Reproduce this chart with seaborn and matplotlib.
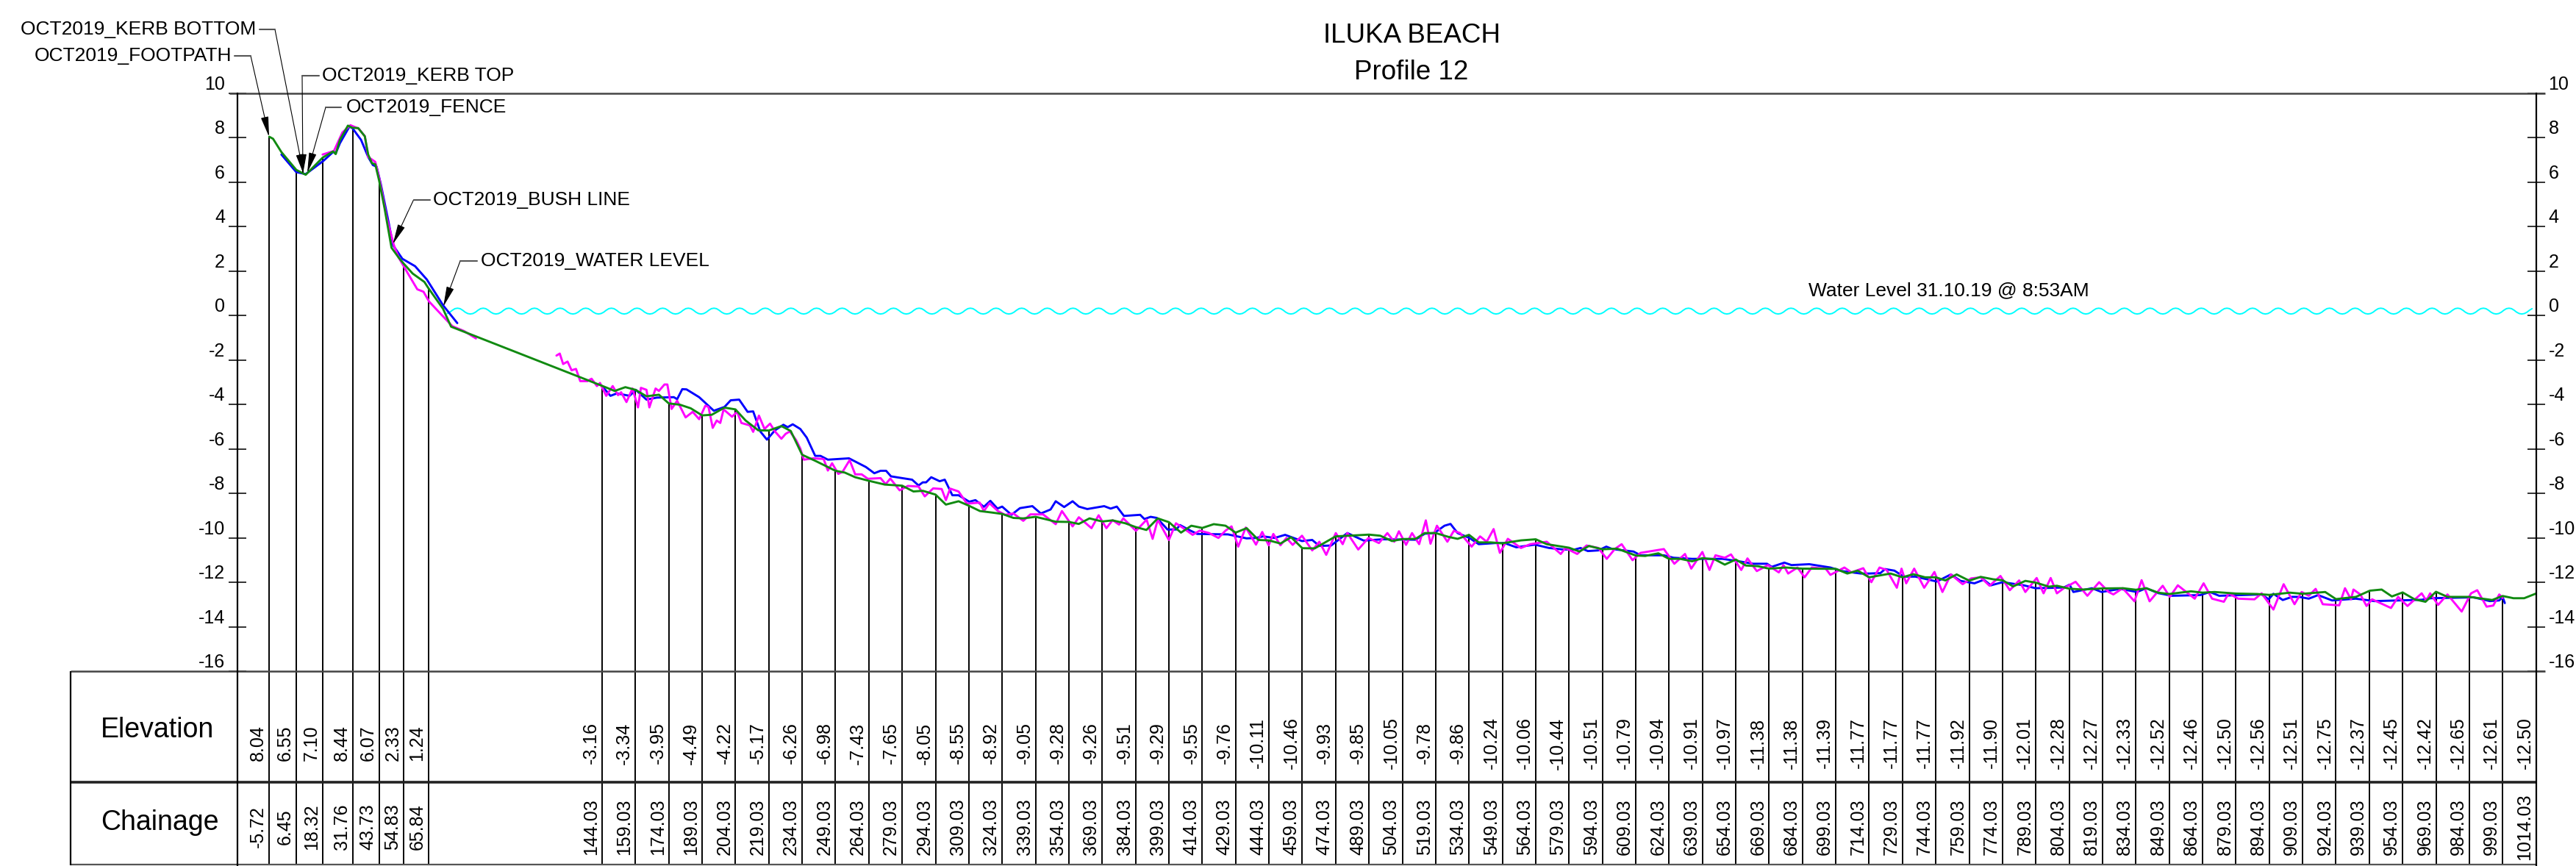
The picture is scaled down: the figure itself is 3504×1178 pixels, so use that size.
import numpy as np
import matplotlib
matplotlib.use("Agg")
import matplotlib.pyplot as plt
import seaborn as sns

# station values printed in the table under the profile
station_ch = [-5.72, 6.45, 18.32, 31.76, 43.73, 54.83, 65.84,
              144.03, 159.03, 174.03, 189.03, 204.03, 219.03, 234.03, 249.03, 264.03, 279.03, 294.03, 309.03,
              324.03, 339.03, 354.03, 369.03, 384.03, 399.03, 414.03, 429.03, 444.03, 459.03, 474.03, 489.03,
              504.03, 519.03, 534.03, 549.03, 564.03, 579.03, 594.03, 609.03, 624.03, 639.03, 654.03, 669.03,
              684.03, 699.03, 714.03, 729.03, 744.03, 759.03, 774.03, 789.03, 804.03, 819.03, 834.03, 849.03,
              864.03, 879.03, 894.03, 909.03, 924.03, 939.03, 954.03, 969.03, 984.03, 999.03, 1014.03]
station_el = [8.04, 6.55, 7.10, 8.44, 6.07, 2.33, 1.24,
              -3.16, -3.34, -3.95, -4.49, -4.22, -5.17, -6.26, -6.98, -7.43, -7.65, -8.05, -8.55,
              -8.92, -9.05, -9.28, -9.26, -9.51, -9.29, -9.55, -9.76, -10.11, -10.46, -9.93, -9.85,
              -10.05, -9.78, -9.86, -10.24, -10.06, -10.44, -10.51, -10.79, -10.94, -10.91, -10.97, -11.38,
              -11.38, -11.39, -11.77, -11.77, -11.77, -11.92, -11.90, -12.01, -12.28, -12.27, -12.33, -12.52,
              -12.46, -12.50, -12.56, -12.51, -12.75, -12.37, -12.45, -12.42, -12.65, -12.61, -12.50]
station_el_txt = [f"{v:.2f}" for v in station_el]
station_ch_txt = [f"{v:.2f}" for v in station_ch]

# green survey
green_ch = [-5.72, -4.0, -0.23, 6.45, 10.7, 18.32, 23.0, 24.2, 26.1, 29.7, 31.76, 34.3, 37.3, 38.8, 40.5, 42.0, 43.73,
            46.2, 49.3, 52.5, 54.83, 58.8, 64.1, 65.84, 72.5, 76.1, 144.03, 149.7, 154.5, 159.03, 164.0, 169.6, 174.03,
            179.1, 183.9, 189.03, 193.4, 199.1, 204.03, 208.6, 214.3, 219.03, 224.7, 228.9, 234.03, 239.9, 249.03,
            253.2, 257.9, 264.03, 271.2, 279.03, 284.1, 288.3, 294.03, 298.7, 304.4, 309.03, 314.0, 319.6, 324.03,
            329.1, 333.5, 339.03, 343.3, 348.1, 354.03, 358.5, 363.3, 369.03, 373.7, 379.4, 384.03, 388.9, 394.0,
            399.03, 404.46, 409.1, 414.03, 419.2, 424.5, 429.03, 434.0, 439.3, 444.03, 449.2, 454.0, 459.03, 464.6,
            474.03, 489.03, 494.1, 499.4, 504.03, 510.0, 514.1, 519.03, 524.7, 528.9, 534.03, 538.4, 543.7, 549.03,
            557.4, 564.03, 569.0, 579.03, 583.7, 588.0, 594.03, 600.6, 609.03, 613.3, 619.2, 624.03, 629.1, 634.4,
            639.03, 644.5, 649.1, 654.03, 658.6, 664.0, 669.03, 676.5, 684.03, 699.03, 704.2, 708.9, 714.03, 723.7,
            729.03, 733.9, 739.2, 744.03, 748.3, 753.4, 759.03, 764.2, 769.9, 774.03, 778.8, 784.3, 789.03, 794.9,
            798.5, 804.03, 810.1, 819.03, 828.3, 834.03, 838.7, 844.0, 849.03, 858.8, 864.03, 869.4, 879.03, 888.5,
            894.03, 903.3, 909.03, 919.2, 924.03, 933.0, 939.3, 944.6, 949.2, 954.03, 959.4, 964.3, 969.03, 974.2,
            984.03, 994.3, 999.03, 1003.9, 1008.7, 1014.03]
green_el = [8.04, 7.95, 7.35, 6.55, 6.33, 7.10, 7.38, 7.26, 7.90, 8.54, 8.44, 8.43, 8.06, 7.24, 6.85, 6.80, 6.07,
            4.81, 3.05, 2.61, 2.33, 1.89, 1.51, 1.24, 0.30, -0.50, -3.16, -3.39, -3.22, -3.34, -3.63, -3.56, -3.95,
            -4.01, -4.17, -4.49, -4.46, -4.14, -4.22, -4.72, -5.16, -5.17, -4.97, -5.19, -6.26, -6.53, -6.98,
            -7.06, -7.27, -7.43, -7.60, -7.65, -7.91, -7.88, -8.05, -8.50, -8.35, -8.55, -8.79, -8.86, -8.92,
            -9.10, -9.12, -9.05, -9.15, -9.27, -9.28, -9.37, -9.12, -9.26, -9.21, -9.34, -9.51, -9.64, -9.12,
            -9.29, -9.76, -9.45, -9.55, -9.38, -9.45, -9.76, -9.56, -10.09, -10.11, -10.25, -9.97, -10.46, -10.47,
            -9.93, -9.85, -9.90, -10.14, -10.05, -10.04, -9.78, -9.78, -9.95, -10.04, -9.86, -10.20, -10.20, -10.24,
            -10.11, -10.06, -10.28, -10.44, -10.61, -10.36, -10.51, -10.48, -10.79, -10.81, -10.69, -10.94, -10.94, -11.05,
            -10.91, -10.96, -11.20, -10.97, -11.24, -11.27, -11.38, -11.33, -11.38, -11.39, -11.60, -11.47, -11.77, -11.60,
            -11.77, -11.63, -11.77, -11.77, -11.91, -11.64, -11.92, -11.75, -11.86, -11.90, -12.18, -11.93, -12.01, -12.19,
            -12.15, -12.28, -12.32, -12.27, -12.26, -12.33, -12.26, -12.46, -12.52, -12.40, -12.46, -12.43, -12.50, -12.52,
            -12.56, -12.46, -12.51, -12.43, -12.75, -12.65, -12.37, -12.32, -12.63, -12.45, -12.76, -12.87, -12.42, -12.65,
            -12.65, -12.79, -12.61, -12.71, -12.71, -12.50]

# blue survey
blue_ch = [-0.23, 6.45, 10.7, 18.6, 23.2, 24.2, 26.1, 30.4, 31.76, 35.6, 38.8, 40.9, 42.6, 44.5, 48.3, 50.0, 54.2, 59.9,
           65.2, 72.5, 78.9]
blue_el = [7.24, 6.45, 6.36, 6.95, 7.37, 7.29, 7.75, 8.50, 8.42, 7.90, 7.13, 6.77, 6.69, 5.91, 4.04, 3.16, 2.55, 2.22,
           1.62, 0.46, -0.34]
blue2_ch = [144.03, 147.8, 150.7, 156.4, 159.2, 164.0, 168.7, 176.3, 177.8, 180.1, 182.0, 187.7, 194.3, 199.1, 201.9,
            205.7, 209.5, 212.0, 215.2, 218.2, 221.8, 225.6, 227.5, 229.8, 233.2, 236.1, 239.9, 242.3, 245.6, 255.1,
            262.7, 266.5, 269.3, 271.8, 274.0, 283.5, 286.4, 288.3, 289.8, 292.1, 295.9, 298.2, 301.6, 304.4, 309.2,
            312.0, 315.8, 318.7, 321.9, 324.0, 328.2, 332.0, 337.6, 341.4, 345.8, 348.1, 351.9, 355.7, 358.5, 362.3,
            369.9, 372.8, 375.6, 378.8, 386.1, 388.0, 390.8, 393.6, 398.4, 402.35, 404.0, 408.7, 411.8, 425.6, 429.8,
            434.0, 438.2, 441.4, 446.6, 451.3, 458.9, 463.5, 466.7, 472.0, 479.3, 486.7, 495.2, 510.0, 514.1, 518.4,
            523.0, 525.7, 528.9, 534.2, 538.4, 545.8, 550.0, 555.3, 563.7, 570.0, 576.4, 581.6, 584.2, 587.5, 592.2,
            595.8, 598.5, 608.0, 611.2, 621.7, 626.0, 634.4, 648.1, 655.5, 661.8, 668.1, 670.2, 675.9, 679.1, 687.1,
            696.6, 701.9, 710.3, 714.0, 719.1, 721.2, 725.4, 729.6, 734.9, 744.5, 750.8, 755.1, 761.4, 765.6, 768.8,
            774.1, 783.6, 788.9, 801.6, 804.2, 805.9, 814.3, 818.6, 827.0, 834.5, 838.7, 844.0, 850.3, 863.0, 867.3,
            871.5, 890.6, 893.8, 895.9, 900.1, 904.3, 907.5, 911.8, 916.0, 922.3, 928.7, 932.9, 941.4, 962.6, 966.8,
            985.9, 993.3, 997.5, 999.0, 1000.0]
blue2_el = [-3.17, -3.61, -3.50, -3.61, -3.34, -3.78, -3.69, -3.67, -3.76, -3.31, -3.32, -3.67, -4.28, -4.11, -3.81,
            -3.78, -4.33, -4.31, -5.21, -5.58, -5.16, -4.91, -5.02, -4.89, -5.10, -5.49, -6.31, -6.31, -6.48, -6.42,
            -6.81, -7.09, -6.98, -6.98, -7.23, -7.38, -7.64, -7.50, -7.50, -7.27, -7.45, -7.38, -8.08, -8.08, -8.37,
            -8.30, -8.60, -8.33, -8.68, -8.59, -8.96, -8.66, -8.57, -8.90, -8.72, -8.35, -8.61, -8.35, -8.59, -8.70,
            -8.57, -8.68, -8.59, -9.01, -8.96, -9.15, -9.05, -9.10, -9.62, -9.62, -9.42, -9.67, -9.82, -9.84, -9.93,
            -10.02, -10.00, -9.93, -10.00, -9.86, -10.14, -10.09, -10.36, -10.34, -9.78, -10.12, -10.06, -10.08, -9.81, -9.78,
            -9.45, -9.37, -9.78, -10.00, -10.28, -10.23, -10.23, -10.42, -10.30, -10.45, -10.52, -10.52, -10.45, -10.59, -10.56,
            -10.39, -10.50, -10.61, -10.78, -10.78, -10.89, -10.94, -10.94, -11.05, -11.16, -11.16, -11.30, -11.11, -11.22, -11.18,
            -11.33, -11.49, -11.60, -11.60, -11.58, -11.40, -11.47, -11.74, -11.74, -11.96, -11.64, -11.93, -12.04, -11.88, -12.13,
            -11.99, -12.13, -12.26, -12.23, -12.10, -12.43, -12.26, -12.43, -12.29, -12.43, -12.26, -12.48, -12.60, -12.57, -12.43,
            -12.60, -12.54, -12.76, -12.51, -12.79, -12.65, -12.65, -12.73, -12.57, -12.81, -12.76, -12.73, -12.84, -12.78, -12.71,
            -12.67, -12.84, -12.81, -12.65, -12.93]

# magenta survey
magenta_ch = [18.3, 23.4, 27.2, 30.8, 34.6, 37.3, 38.8, 42.0, 44.0, 47.2, 50.4, 52.5, 56.7, 60.9, 63.7, 66.2, 72.5, 76.7,
              82.0, 87.3]
magenta_el = [7.24, 7.40, 8.23, 8.56, 8.40, 8.06, 7.13, 6.91, 6.08, 4.37, 3.16, 2.61, 1.89, 1.18, 1.07, 0.63, -0.04, -0.48,
              -0.70, -1.03]
magenta2_ch = [123.5, 125.0, 126.5, 128.5, 130.3, 132.3, 134.2, 137.4, 139.3, 141.7, 143.1, 145.9, 148.8, 151.2, 152.6,
               155.0, 157.7, 160.2, 161.5, 164.0, 165.3, 168.1, 169.6, 172.1, 173.4, 175.3, 177.8, 181.6, 184.8, 187.7,
               190.5, 191.9, 193.8, 195.6, 197.2, 198.7, 202.5, 204.8, 206.7, 210.5, 212.0, 214.6, 217.1, 219.6, 221.8,
               224.7, 226.6, 228.5, 231.3, 233.2, 234.8, 239.0, 243.7, 245.6, 247.5, 250.3, 252.2, 255.4, 257.9, 260.8,
               263.6, 269.3, 271.6, 273.7, 277.9, 281.6, 286.4, 289.2, 293.0, 296.8, 298.7, 300.6, 304.4, 308.2, 313.9,
               315.8, 318.3, 322.1, 325.3, 329.1, 333.5, 336.7, 342.4, 348.1, 350.9, 355.7, 358.5, 364.2, 367.4, 370.9,
               373.7, 376.6, 378.5, 384.2, 389.0, 391.7, 394.0, 399.0, 402.2, 405.5, 409.7, 412.9, 417.1, 421.3, 424.5,
               427.2, 430.2, 433.6, 438.2, 441.0, 443.9, 446.0, 449.2, 451.9, 454.7, 458.9, 463.5, 466.7, 469.8, 474.1,
               477.2, 479.3, 484.2, 488.8, 493.5, 497.3, 500.4, 502.5, 505.7, 508.4, 511.6, 514.6, 516.7, 519.6, 524.3,
               527.2, 530.0, 535.2, 539.0, 542.0, 545.1, 547.9, 551.5, 557.4, 561.6, 569.0, 575.3, 577.4, 582.7, 586.9,
               592.2, 596.0, 599.6, 602.7, 607.6, 611.2, 621.7, 626.4, 631.2, 634.0, 639.0, 642.2, 644.9, 649.1, 651.9,
               656.5, 659.3, 663.5, 668.5, 673.4, 675.5, 677.6, 681.8, 685.0, 688.2, 694.5, 696.6, 702.9, 706.1, 711.4,
               715.0, 718.7, 721.9, 726.5, 728.6, 730.7, 734.3, 738.8, 743.4, 747.0, 750.8, 756.1, 759.9, 764.2, 768.2,
               773.1, 777.3, 781.5, 784.3, 789.4, 792.5, 795.7, 798.5, 801.6, 806.9, 812.2, 817.5, 821.8, 823.9, 828.1,
               833.4, 836.6, 840.2, 846.1, 849.3, 852.9, 860.5, 864.5, 868.3, 873.6, 875.8, 880.0, 887.4, 890.6, 895.9,
               900.5, 905.4, 908.6, 911.8, 914.9, 918.1, 925.5, 928.1, 930.8, 931.9, 935.0, 937.8, 940.3, 948.8, 952.0,
               956.2, 962.6, 964.7, 966.4, 970.0, 974.2, 980.6, 984.8, 987.6, 991.8, 994.8, 997.5, 999.0]
magenta2_el = [-1.80, -1.71, -2.18, -2.07, -2.46, -2.40, -2.95, -2.95, -2.84, -3.17, -3.03, -3.61, -3.17, -3.58, -3.45,
               -3.89, -3.28, -4.13, -3.25, -3.34, -4.13, -3.28, -3.39, -3.10, -3.10, -4.20, -3.83, -4.58, -4.33, -4.66,
               -4.05, -4.11, -5.05, -4.72, -4.83, -4.22, -4.55, -4.33, -4.83, -4.94, -5.23, -4.50, -5.10, -4.86, -5.21,
               -5.54, -5.32, -5.21, -5.60, -5.98, -6.48, -6.42, -6.45, -6.97, -6.64, -7.12, -7.03, -6.50, -7.14, -7.14,
               -7.34, -7.31, -7.58, -7.33, -7.86, -7.66, -7.69, -8.13, -7.77, -7.80, -8.30, -7.78, -7.91, -8.46, -8.41,
               -8.79, -8.44, -8.79, -8.96, -8.90, -9.23, -8.94, -8.94, -9.38, -8.79, -9.48, -9.07, -9.56, -8.98, -9.56,
               -9.20, -9.40, -9.12, -9.68, -9.18, -10.04, -9.18, -10.09, -9.34, -9.56, -9.86, -9.67, -9.78, -10.00, -9.67,
               -9.48, -10.39, -9.53, -10.30, -9.73, -10.33, -9.82, -10.33, -10.00, -10.31, -9.90, -10.56, -10.17, -10.76, -9.78,
               -10.28, -9.78, -10.52, -10.00, -10.23, -9.78, -10.17, -9.70, -10.31, -9.78, -10.28, -9.21, -10.26, -9.45, -10.17,
               -9.68, -9.78, -10.39, -9.93, -10.17, -9.60, -10.67, -10.04, -10.45, -10.28, -10.17, -10.72, -10.45, -10.72, -10.34,
               -10.45, -10.94, -10.50, -10.28, -11.00, -10.67, -10.50, -11.16, -10.72, -11.38, -10.63, -11.44, -10.78, -10.89, -10.74,
               -11.44, -10.92, -11.49, -11.22, -11.55, -11.22, -11.60, -11.33, -11.77, -11.33, -11.38, -11.66, -11.33, -11.55, -11.36,
               -11.99, -11.33, -11.44, -12.24, -11.38, -12.04, -11.38, -12.24, -11.53, -12.43, -11.64, -12.08, -11.82, -11.77, -12.15,
               -11.71, -12.35, -11.91, -12.43, -11.80, -12.49, -11.80, -12.49, -12.26, -11.97, -12.60, -11.99, -12.43, -12.54, -12.26,
               -12.85, -11.90, -12.85, -12.15, -12.65, -12.13, -12.73, -12.04, -12.73, -12.87, -12.49, -12.73, -12.76, -12.49, -13.22,
               -12.08, -12.98, -12.43, -12.60, -12.29, -12.98, -13.03, -12.26, -12.76, -12.32, -12.54, -13.06, -12.76, -13.15, -12.65,
               -13.06, -12.49, -12.82, -12.49, -13.01, -12.54, -13.31, -12.49, -12.35, -13.09, -13.04, -12.54, -12.70]

# one cycle of the water level line, crest to crest
wave_shape = [0.33, 0.31, 0.24, 0.15, 0.09, 0.07, 0.09, 0.15, 0.24, 0.31]
wave_start = 67.46
wave_period = 11.536

W, H = 3504, 1178
X0, X1 = 323.0, 3449.6
Y0, Y1 = 126.7, 1176.7
BOTTOM = -16 - (Y1 - 913.3) / 30.25
ROW2 = -16 - (1064 - 913.3) / 30.25
EL_ROW = -16 - (1011 - 913.3) / 30.25
CH_ROW = -16 - (1125 - 913.3) / 30.25
XSCALE = (X1 - X0) / 1034.03
TABLE_L = -20 - (X0 - 95.7) / XSCALE
TICK_L = -20 - 11 / XSCALE
TICK_R = 1014.03 + 12 / XSCALE

sns.set_theme(style="white")
plt.rcParams["font.family"] = ["Liberation Sans", "DejaVu Sans"]

fig = plt.figure(figsize=(W / 100, H / 100), dpi=100)
ax = fig.add_axes([X0 / W, 1 - Y1 / H, (X1 - X0) / W, (Y1 - Y0) / H])
ax.set_xlim(-20, 1014.03)
ax.set_ylim(BOTTOM, 10)

# profile lines
wave_y = np.tile(wave_shape, 82)
wave_x = wave_start + np.arange(len(wave_y)) * wave_period / len(wave_shape)
keep = (wave_x > 73.3) & (wave_x < 1013)
sns.lineplot(x=wave_x[keep], y=wave_y[keep], color="#00ffff", lw=1.4, ax=ax, estimator=None, sort=False)

ax.vlines(station_ch, BOTTOM, station_el, color="black", lw=1.4, zorder=1)

sns.lineplot(x=blue_ch, y=blue_el, color="#0000ff", lw=2.1, ax=ax, estimator=None, sort=False)
sns.lineplot(x=blue2_ch, y=blue2_el, color="#0000ff", lw=2.1, ax=ax, estimator=None, sort=False)
sns.lineplot(x=magenta_ch, y=magenta_el, color="#ff00ff", lw=2.1, ax=ax, estimator=None, sort=False)
sns.lineplot(x=magenta2_ch, y=magenta2_el, color="#ff00ff", lw=2.1, ax=ax, estimator=None, sort=False)
sns.lineplot(x=green_ch, y=green_el, color="#118a11", lw=2.1, ax=ax, estimator=None, sort=False)

ax.set_xticks([])
ax.set_xlabel("")
ax.set_ylabel("")
ax.set_yticks(list(range(-16, 11, 2)))
ax.set_yticklabels([str(v) for v in range(-16, 11, 2)])
ax.tick_params(axis="y", direction="inout", length=17, width=1.4, color="#333333", labelsize=18,
               left=True, right=True, labelleft=True, labelright=True, pad=3.7, labelcolor="black")
for t in ax.yaxis.get_major_ticks():
    t.label1.set_verticalalignment("bottom")
    t.label2.set_verticalalignment("bottom")

for s in ["top", "bottom"]:
    ax.spines[s].set_visible(False)
for s in ["left", "right"]:
    ax.spines[s].set_visible(True)
    ax.spines[s].set_color("black")
    ax.spines[s].set_linewidth(1.6)

# table rules
ax.hlines(10, TICK_L, TICK_R, color="#444444", lw=1.8, clip_on=False)
ax.hlines(-16, TABLE_L, TICK_R, color="#444444", lw=1.8, clip_on=False)
ax.hlines(ROW2, TABLE_L, 1014.03, color="#222222", lw=2.6, clip_on=False)
ax.hlines(BOTTOM + 0.01, TABLE_L, 1014.03, color="#555555", lw=1.6, clip_on=False)
ax.vlines(TABLE_L, BOTTOM, -16, color="black", lw=1.6, clip_on=False)

# row names, left aligned in the first column
fig.text(137 / W, 1 - 993 / H, "Elevation", fontsize=27, ha="left", va="center", color="black")
fig.text(137 / W, 1 - 1119 / H, "Chainage", fontsize=27, ha="left", va="center", color="black")

for ch, el, ch_txt in zip(station_ch, station_el_txt, station_ch_txt):
    ax.annotate(el, xy=(ch, EL_ROW), xytext=(-10.8, 0), textcoords="offset points", rotation=90,
                ha="center", va="center", fontsize=18, color="black")
    ax.annotate(ch_txt, xy=(ch, CH_ROW), xytext=(-10.8, 0), textcoords="offset points", rotation=90,
                ha="center", va="center", fontsize=18, color="black")


def fx(x):
    return x / W


def fy(y):
    return 1 - y / H


# titles
fig.text(fx(1920), fy(49), "ILUKA BEACH", fontsize=26.5, ha="center", va="center", color="black")
fig.text(fx(1920), fy(98), "Profile 12", fontsize=26.5, ha="center", va="center", color="black")
fig.text(fx(2651), fy(395), "Water Level 31.10.19 @ 8:53AM", fontsize=19, ha="center", va="center", color="black")

# callouts: text, text end, stub end, elbow, arrow tip, side
callouts = [
    ("OCT2019_KERB BOTTOM", 348, 40, 353, 374, 40, 413, 237, "right"),
    ("OCT2019_FOOTPATH", 315, 76, 319, 341, 76, 366, 186, "right"),
    ("OCT2019_KERB TOP", 438, 103, 434, 411, 103, 412, 237, "left"),
    ("OCT2019_FENCE", 471, 146, 464, 443, 146, 418, 235, "left"),
    ("OCT2019_BUSH LINE", 589, 272, 585, 562.5, 272, 534.4, 332, "left"),
    ("OCT2019_WATER LEVEL", 654, 355, 648.6, 626, 355, 603, 417, "left"),
]
for txt, tx, ty, sx, ex, ly, ax_tip, ay_tip, side in callouts:
    fig.text(fx(tx), fy(ty), txt, fontsize=19, ha=side, va="center", color="black")
    fig.add_artist(plt.Line2D([fx(sx), fx(ex)], [fy(ly), fy(ly)], color="#555555", lw=1.5))
    ax.annotate("", xy=(fx(ax_tip), fy(ay_tip)), xycoords="figure fraction",
                xytext=(fx(ex), fy(ly)), textcoords="figure fraction",
                arrowprops=dict(arrowstyle="-|>,head_length=1.7,head_width=0.32", color="black", lw=0.8,
                                shrinkA=0, shrinkB=0, mutation_scale=10),
                annotation_clip=False)

fig.savefig("out.png", dpi=100, facecolor="white")
